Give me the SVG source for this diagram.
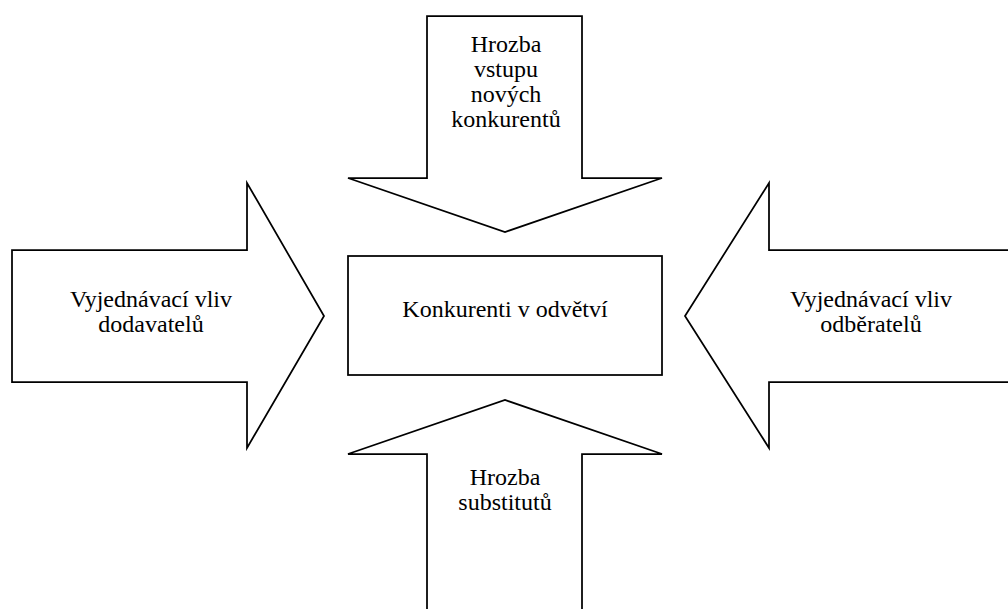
<svg xmlns="http://www.w3.org/2000/svg" width="1008" height="609" viewBox="0 0 1008 609">
<style>
.shape{fill:#fff;stroke:#000;stroke-width:1.75;stroke-linejoin:miter}
.lbl{font-family:"Liberation Serif","Times New Roman",serif;font-size:24px;fill:#000;text-anchor:middle}
</style>
<rect width="1008" height="609" fill="#fff"/>
<g id="connectors">
<g id="arrow-top">
<polygon class="shape" points="427,16 582,16 582,178 662,178 505,232 348,178 427,178"/>
<text class="lbl" x="506" y="52">Hrozba</text>
<text class="lbl" x="506" y="77">vstupu</text>
<text class="lbl" x="506" y="102">nových</text>
<text class="lbl" x="506" y="127">konkurentů</text>
</g>
<g id="arrow-left">
<polygon class="shape" points="12,250 247,250 247,183 324,316 247,448 247,382 12,382"/>
<text class="lbl" x="151" y="307">Vyjednávací vliv</text>
<text class="lbl" x="151" y="332">dodavatelů</text>
</g>
<g id="arrow-right">
<polygon class="shape" points="1012,250 769,250 769,183 685,316 769,448 769,382 1012,382"/>
<text class="lbl" x="871" y="307">Vyjednávací vliv</text>
<text class="lbl" x="871" y="332">odběratelů</text>
</g>
<g id="arrow-bottom">
<polygon class="shape" points="427,614 427,454 348,454 505,400 662,454 582,454 582,614"/>
<text class="lbl" x="505" y="485">Hrozba</text>
<text class="lbl" x="505" y="510">substitutů</text>
</g>
</g>
<g id="node-center">
<rect class="shape" x="348" y="256" width="314" height="119"/>
<text class="lbl" x="505" y="317">Konkurenti v odvětví</text>
</g>
</svg>
